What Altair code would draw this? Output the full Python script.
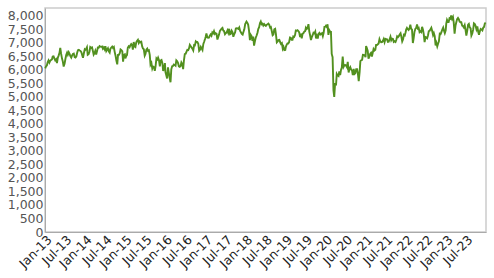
import altair as alt
import pandas as pd

# Approximate weekly-ish levels (4 per month)
y2013 = [6048, 6121, 6154, 6277, 6347, 6264, 6328, 6355, 6378, 6483, 6490, 6412,
         6349, 6384, 6244, 6430, 6521, 6624, 6803, 6583, 6411, 6308, 6116, 6215,
         6375, 6544, 6631, 6554, 6647, 6583, 6499, 6447, 6532, 6583, 6596, 6462,
         6449, 6487, 6622, 6721, 6734, 6708, 6693, 6650, 6532, 6439, 6606, 6749]
y2014 = [6730, 6757, 6829, 6550, 6572, 6663, 6838, 6810, 6824, 6712, 6557, 6615,
         6695, 6561, 6685, 6818, 6814, 6873, 6856, 6844, 6858, 6777, 6825, 6757,
         6866, 6690, 6749, 6791, 6679, 6632, 6777, 6820, 6855, 6806, 6837, 6649,
         6527, 6340, 6195, 6546, 6551, 6612, 6750, 6723, 6679, 6300, 6546, 6566]
y2015 = [6417, 6501, 6550, 6811, 6865, 6829, 6898, 6946, 6911, 6740, 7022, 6855,
         6833, 7015, 7070, 7104, 6986, 7047, 7013, 7031, 6859, 6784, 6753, 6521,
         6585, 6737, 6775, 6696, 6718, 6550, 6187, 6247, 6042, 6117, 6105, 5958,
         6129, 6416, 6376, 6444, 6353, 6118, 6334, 6356, 6238, 5952, 6052, 6242]
y2016 = [5912, 5804, 5673, 6083, 5898, 5707, 5537, 6012, 6130, 6139, 6189, 6174,
         6146, 6343, 6310, 6241, 6125, 6104, 6136, 6270, 6209, 6021, 6338, 6577,
         6590, 6669, 6730, 6724, 6793, 6916, 6868, 6820, 6776, 6710, 6909, 6899,
         7044, 7013, 7020, 6954, 6693, 6730, 6840, 6783, 6730, 6954, 7042, 7142]
y2017 = [7210, 7337, 7198, 7184, 7188, 7258, 7300, 7253, 7374, 7343, 7424, 7322,
         7349, 7327, 7114, 7204, 7297, 7435, 7470, 7520, 7547, 7449, 7424, 7312,
         7350, 7378, 7453, 7368, 7511, 7310, 7324, 7438, 7377, 7215, 7310, 7373,
         7522, 7535, 7523, 7505, 7560, 7433, 7380, 7327, 7300, 7394, 7490, 7688]
y2018 = [7724, 7778, 7730, 7665, 7443, 7092, 7294, 7244, 7069, 7224, 6890, 7057,
         7183, 7264, 7368, 7502, 7567, 7724, 7779, 7678, 7702, 7633, 7682, 7637,
         7617, 7661, 7679, 7701, 7659, 7558, 7577, 7432, 7277, 7304, 7490, 7510,
         7318, 7014, 7049, 7094, 7104, 7013, 6953, 6980, 6778, 6845, 6721, 6728]
y2019 = [6837, 6918, 6968, 6968, 7020, 7190, 7178, 7107, 7104, 7228, 7208, 7279,
         7447, 7437, 7460, 7428, 7380, 7203, 7334, 7161, 7331, 7345, 7407, 7425,
         7553, 7506, 7549, 7686, 7407, 7253, 7094, 7207, 7282, 7367, 7344, 7408,
         7155, 7247, 7150, 7324, 7359, 7302, 7327, 7346, 7240, 7353, 7582, 7587]
y2020 = [7622, 7587, 7674, 7286, 7466, 7409, 7403, 6581, 6462, 5237, 4994, 5510,
         5416, 5842, 5787, 5763, 5935, 5800, 6000, 6076, 6484, 6105, 6160, 6170,
         6157, 6095, 6290, 5898, 6032, 6090, 6002, 5964, 5799, 6032, 5842, 5866,
         6017, 6016, 5860, 5577, 5910, 6316, 6351, 6367, 6550, 6546, 6529, 6461]
y2021 = [6873, 6802, 6695, 6407, 6489, 6589, 6624, 6483, 6631, 6761, 6708, 6737,
         6916, 6915, 6939, 6969, 7130, 7043, 7018, 7022, 7069, 7134, 7017, 7138,
         7123, 7121, 7028, 7032, 7123, 7218, 7087, 7148, 7138, 7027, 7051, 7027,
         7095, 7234, 7204, 7237, 7303, 7348, 7223, 7044, 7122, 7291, 7269, 7384]
y2022 = [7485, 7542, 7494, 7466, 7516, 7661, 7513, 7489, 6987, 7155, 7405, 7515,
         7538, 7669, 7521, 7544, 7387, 7418, 7390, 7585, 7476, 7317, 7016, 7208,
         7189, 7159, 7276, 7423, 7440, 7500, 7550, 7427, 7281, 7351, 7237, 6894,
         6991, 6859, 6970, 7047, 7334, 7318, 7385, 7486, 7556, 7445, 7351, 7452]
y2023 = [7699, 7844, 7770, 7765, 7901, 7882, 8004, 7879, 7947, 7748, 7335, 7620,
         7741, 7871, 7914, 7870, 7778, 7754, 7756, 7627, 7607, 7562, 7642, 7461,
         7257, 7434, 7663, 7694, 7564, 7524, 7262, 7338, 7478, 7711, 7683, 7608,
         7494, 7599, 7402, 7291, 7417, 7504, 7488, 7453, 7554, 7576, 7715, 7733]

years = [2013, 2014, 2015, 2016, 2017, 2018, 2019, 2020, 2021, 2022, 2023]
series = [y2013, y2014, y2015, y2016, y2017, y2018, y2019, y2020, y2021, y2022, y2023]

y_ticks = list(range(0, 8001, 500))
tick_years = list(range(2013, 2024))
tick_months = [1, 7]

frames = []
for yr, vals in zip(years, series):
    d = pd.date_range(f"{yr}-01-03", f"{yr}-12-29", periods=len(vals))
    frames.append(pd.DataFrame({"date": d, "value": vals}))
df = pd.concat(frames, ignore_index=True)
df["date"] = df["date"].dt.strftime("%Y-%m-%d")

x_values = [alt.DateTime(year=y, month=m, date=1) for y in tick_years for m in tick_months]

chart = alt.Chart(df).mark_line(color="#52901f", strokeWidth=1.9).encode(
    x=alt.X("date:T",
            scale=alt.Scale(domain=[alt.DateTime(year=2013, month=1, date=1),
                                    alt.DateTime(year=2023, month=12, date=31)], nice=False),
            axis=alt.Axis(values=x_values, format="%b-%y", labelAngle=-45, title=None,
                          grid=False, ticks=False, labelFont="DejaVu Sans", labelFontSize=12.5,
                          labelColor="#222", domainColor="#aaaaaa", labelPadding=1,
                          labelOverlap=False)),
    y=alt.Y("value:Q",
            scale=alt.Scale(domain=[0, 8280], nice=False, zero=True),
            axis=alt.Axis(values=y_ticks, format=",.0f", title=None, grid=False, ticks=False,
                          labelFont="DejaVu Sans", labelFontSize=12.5, labelColor="#555",
                          domainColor="#aaaaaa", labelPadding=2, labelOverlap=False)),
).properties(
    width=441, height=224,
    autosize=alt.AutoSizeParams(type="none"),
    padding={"left": 45, "top": 8, "right": 8, "bottom": 46},
).configure_view(stroke="#cccccc", strokeWidth=1.5)

chart.save("out.html", embed_options={"renderer": "svg", "actions": False})
